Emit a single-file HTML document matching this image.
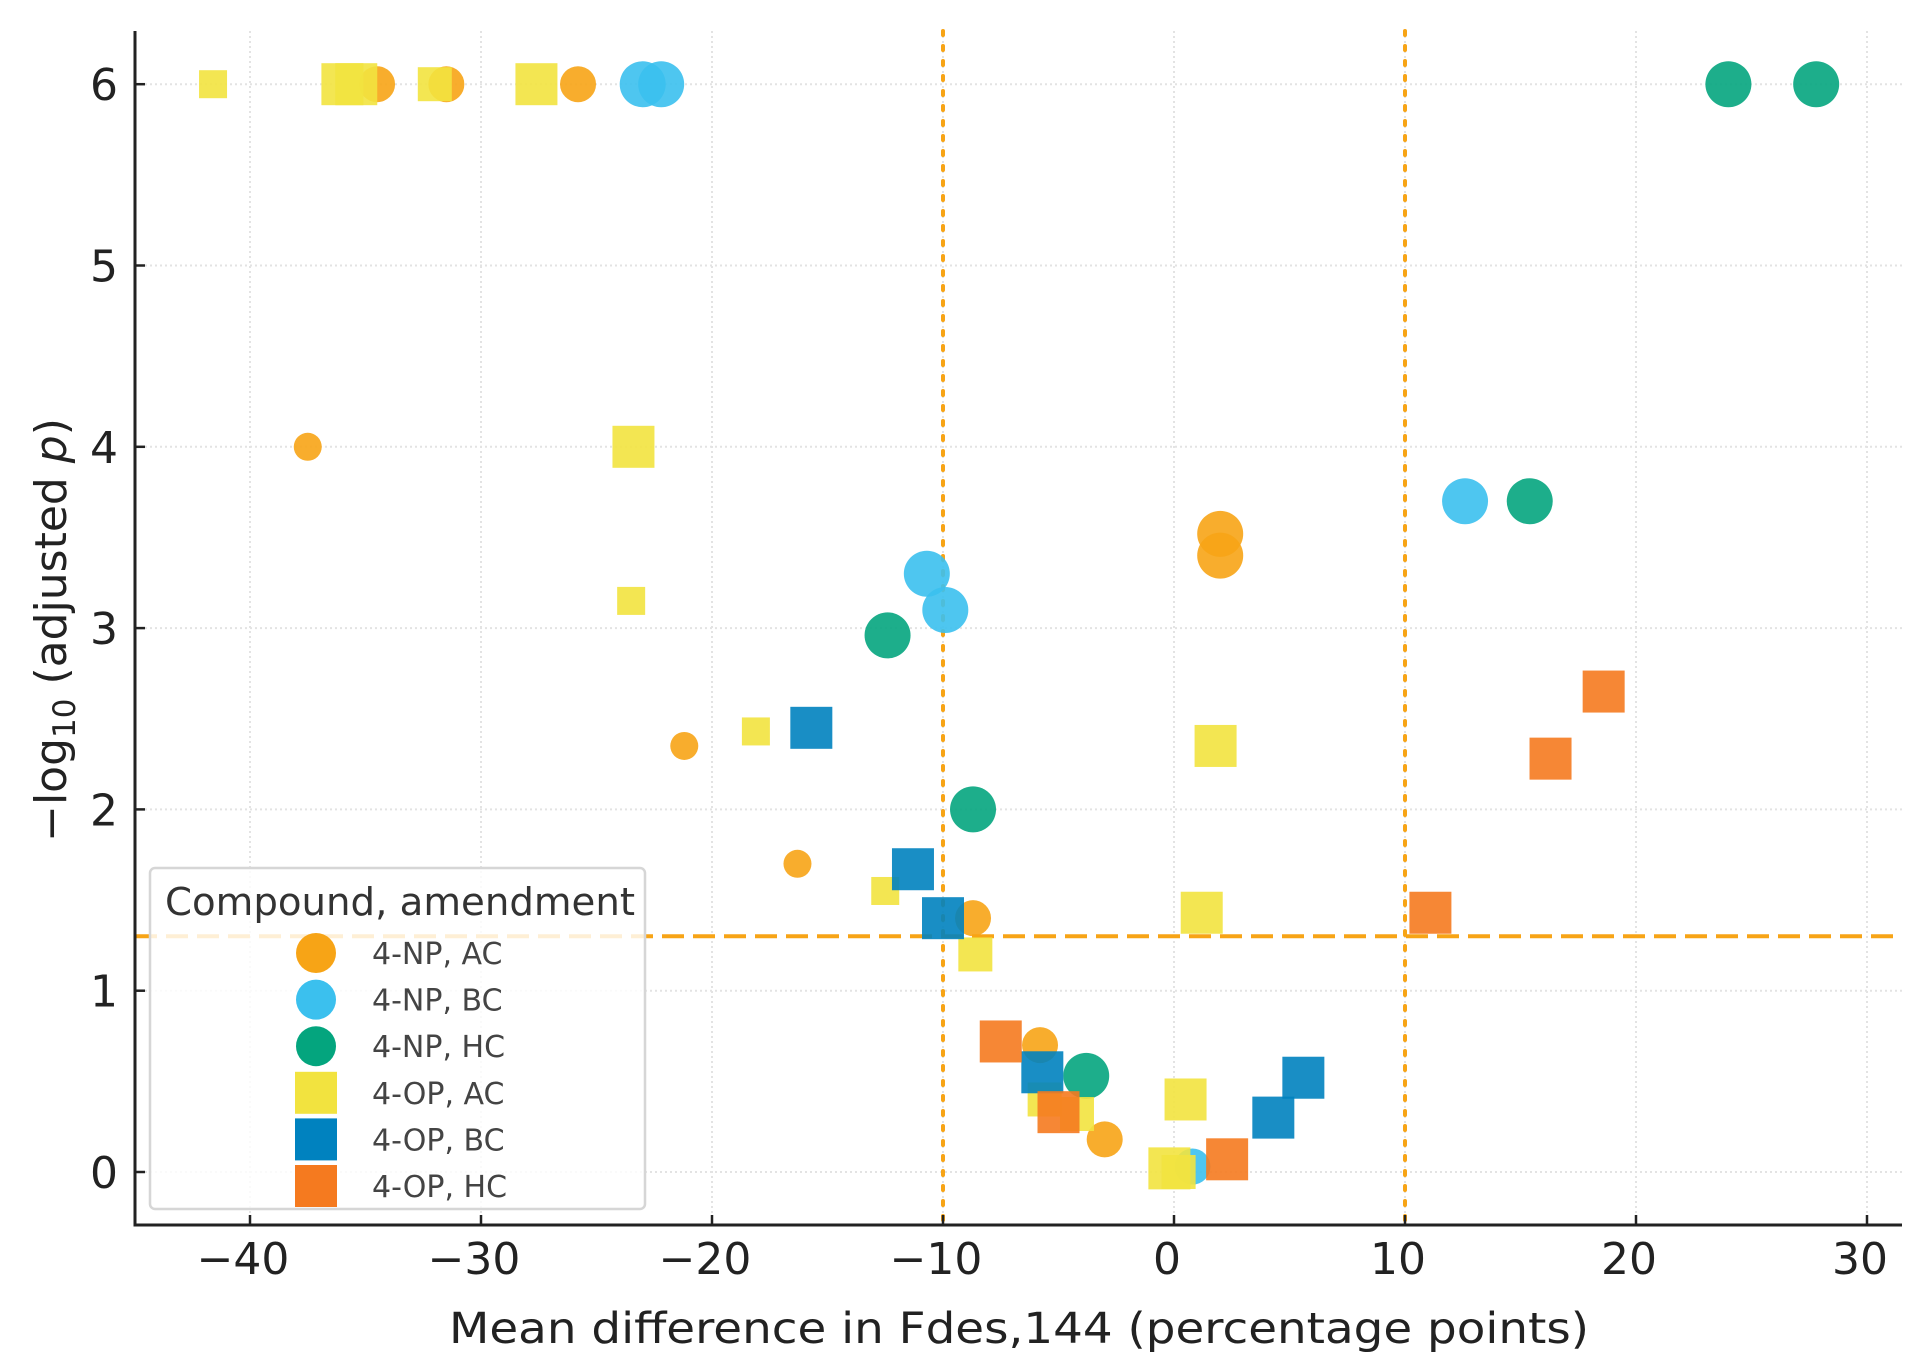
<!DOCTYPE html>
<html><head><meta charset="utf-8"><style>
html,body{margin:0;padding:0;background:#fff;}
svg{display:block;font-family:"DejaVu Sans","Liberation Sans",sans-serif;}
</style></head><body>
<svg id="chart" width="1929" height="1364" viewBox="0 0 1929 1364" xmlns="http://www.w3.org/2000/svg">
<g id="grid"></g>
<g id="refs"></g>
<g id="marks"></g>
<g id="axes"></g>
<g id="legend"></g>
</svg>
<script>
const xTicks = [-40,-30,-20,-10,0,10,20,30];
const yTicks = [0,1,2,3,4,5,6];
const seriesNames = ["4-NP, AC","4-NP, BC","4-NP, HC","4-OP, AC","4-OP, BC","4-OP, HC"];
const seriesColors = ["#F7A416","#3BC0EE","#04A57E","#F2E33F","#0082BF","#F57A1F"];
const seriesShapes = ["circle","circle","circle","square","square","square"];
// x values (mean difference), y values (-log10 adjusted p), marker size classes (1 small,2 medium,3 large)
const npAC_x = [-34.5,-31.5,-25.8,-37.5,2.0,2.0,-21.2,-16.3,-8.7,-5.8,-3.0];
const npAC_y = [6,6,6,4,3.52,3.4,2.35,1.7,1.4,0.7,0.18];
const npAC_s = [2,2,2,1,3,3,1,1,2,2,2];
const npBC_x = [-23.0,-22.2,-10.7,-9.9,12.6,0.8];
const npBC_y = [6,6,3.3,3.1,3.7,0.03];
const npBC_s = [3,3,3,3,3,2];
const npHC_x = [24.0,27.8,15.4,-12.4,-8.7,-3.8];
const npHC_y = [6,6,3.7,2.96,2.0,0.53];
const npHC_s = [3,3,3,3,3,3];
const opAC_x = [-41.6,-36.0,-35.4,-32.0,-27.6,-23.4,-23.5,-18.1,-12.5,-8.6,1.8,1.2,0.5,-0.2,0.2,-4.2,-5.6];
const opAC_y = [6,6,6,6,6,4,3.15,2.43,1.55,1.2,2.35,1.43,0.4,0.02,0.0,0.32,0.4];
const opAC_s = [1,3,3,2,3,3,1,1,1,2,3,3,3,3,2,2,2];
const opBC_x = [-15.7,-11.3,-10.0,-5.7,4.3,5.6];
const opBC_y = [2.45,1.67,1.4,0.55,0.3,0.52];
const opBC_s = [3,3,3,3,3,3];
const opHC_x = [18.6,16.3,11.1,-7.5,-5.0,2.3];
const opHC_y = [2.65,2.28,1.43,0.72,0.33,0.07];
const opHC_s = [3,3,3,3,3,3];
const vLines = [-10,10];
const hLine = 1.3;

const SX = [npAC_x,npBC_x,npHC_x,opAC_x,opBC_x,opHC_x];
const SY = [npAC_y,npBC_y,npHC_y,opAC_y,opBC_y,opHC_y];
const SS = [npAC_s,npBC_s,npHC_s,opAC_s,opBC_s,opHC_s];

const L=135,R=1902,T=31,B=1225;
const xScale = v => 1174 + v*23.1;
const yScale = v => 1172 - v*181.3;
const NS="http://www.w3.org/2000/svg";
function mk(tag, parent, attrs){const e=document.createElementNS(NS,tag);for(const k in attrs)e.setAttribute(k,attrs[k]);parent.appendChild(e);return e;}

const grid=document.getElementById('grid');
xTicks.forEach(t=>{const l=mk('line',grid,{x1:xScale(t),x2:xScale(t),y1:T,y2:B,stroke:'#e3e3e3','stroke-width':2,'stroke-dasharray':'2 3'});

});
yTicks.forEach(t=>{const l=mk('line',grid,{x1:L,x2:R,y1:yScale(t),y2:yScale(t),stroke:'#e3e3e3','stroke-width':2,'stroke-dasharray':'2 3'});

});

const refs=document.getElementById('refs');
vLines.forEach(v=>{const l=mk('line',refs,{x1:xScale(v),x2:xScale(v),y1:T,y2:B,stroke:'#F7A416','stroke-width':4,'stroke-dasharray':'4 11','stroke-linecap':'round'});

});
const hl=mk('line',refs,{x1:L,x2:R,y1:yScale(hLine),y2:yScale(hLine),stroke:'#F7A416','stroke-width':4,'stroke-dasharray':'22 9'});



const marks=document.getElementById('marks');
const circR=[0,14,18,23], sqH=[0,14,17,21];
SX.forEach((xs,si)=>{xs.forEach((xv,i)=>{
  const cx=xScale(xv), cy=yScale(SY[si][i]), s=SS[si][i]; let e;
  if(seriesShapes[si]==='circle'){e=mk('circle',marks,{cx:cx,cy:cy,r:circR[s],fill:seriesColors[si],'fill-opacity':0.9});}
  else{e=mk('rect',marks,{x:cx-sqH[s],y:cy-sqH[s],width:2*sqH[s],height:2*sqH[s],fill:seriesColors[si],'fill-opacity':0.9});}
  
  
});});

const axes=document.getElementById('axes');
mk('line',axes,{x1:L,x2:L,y1:T,y2:B+1.5,stroke:'#222','stroke-width':3});
mk('line',axes,{x1:L-1.5,x2:R,y1:B,y2:B,stroke:'#222','stroke-width':3});
xTicks.forEach(t=>{mk('line',axes,{x1:xScale(t),x2:xScale(t),y1:B,y2:B-10,stroke:'#222','stroke-width':2.5});
const tx=mk('text',axes,{x:xScale(t)-7,y:1274,'text-anchor':'middle','font-size':44,fill:'#222'});tx.textContent=(t<0?'\u2212'+(-t):t);

});
yTicks.forEach(t=>{mk('line',axes,{x1:L,x2:L+10,y1:yScale(t),y2:yScale(t),stroke:'#222','stroke-width':2.5});
const tx=mk('text',axes,{x:118,y:yScale(t)+16,'text-anchor':'end','font-size':44,fill:'#222'});tx.textContent=t;

});
const xt=mk('text',axes,{x:449,y:1343,'font-size':43,fill:'#222',textLength:1140,lengthAdjust:'spacingAndGlyphs'});
xt.textContent='Mean difference in Fdes,144 (percentage points)';


const yt=mk('text',axes,{x:0,y:0,'text-anchor':'middle','font-size':44,fill:'#222',transform:'translate(66,630) rotate(-90)'});
yt.innerHTML='\u2212log<tspan font-size="31" dy="9">10</tspan><tspan dy="-9"> (adjusted </tspan><tspan font-style="italic">p</tspan>)';



const lg=document.getElementById('legend');
mk('rect',lg,{x:150,y:868,width:495,height:341,rx:5,fill:'#fff','fill-opacity':0.82,stroke:'#d6d6d6','stroke-width':2.5});
const lt=mk('text',lg,{x:165,y:915,'font-size':38,fill:'#333',textLength:470,lengthAdjust:'spacingAndGlyphs'});lt.textContent='Compound, amendment';


seriesNames.forEach((n,i)=>{const cy=953+i*46.6;
  const g=mk('g',lg,{});
  
  
  if(seriesShapes[i]==='circle')mk('circle',g,{cx:316,cy:cy,r:20,fill:seriesColors[i]});
  else mk('rect',g,{x:295,y:cy-21,width:42,height:42,fill:seriesColors[i]});
  const t=mk('text',g,{x:372,y:cy+11,'font-size':30,fill:'#444'});t.textContent=n;
});
</script>
</body></html>
